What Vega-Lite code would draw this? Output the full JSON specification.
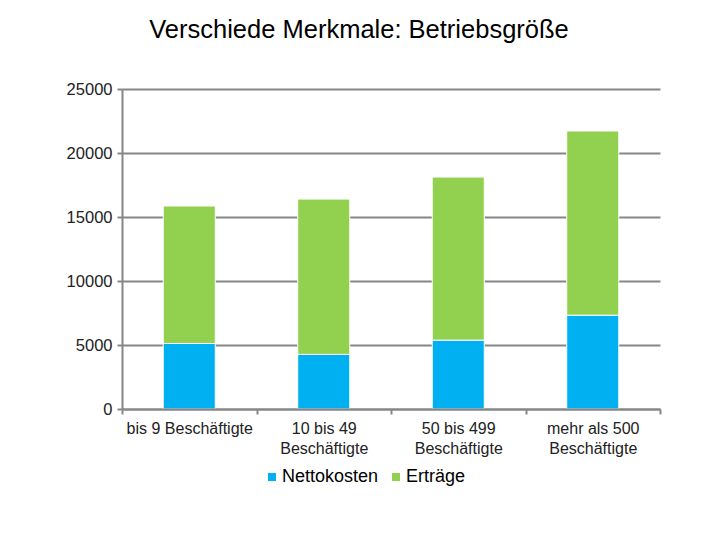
{
  "$schema": "https://vega.github.io/schema/vega-lite/v6.json",
  "autosize": {"type": "none"},
  "width": 538,
  "height": 320,
  "padding": {"left": 122, "top": 89, "right": 60, "bottom": 131},
  "background": "white",
  "title": {
    "text": "Verschiede Merkmale: Betriebsgröße",
    "font": "Liberation Sans",
    "fontSize": 25.5,
    "fontWeight": "normal",
    "color": "#000000",
    "anchor": "middle",
    "dx": -32,
    "offset": 38
  },
  "data": {
    "values": [
      {"Betriebsgroesse": "bis 9 Beschäftigte", "Kategorie": "Nettokosten", "Wert": 5120},
      {"Betriebsgroesse": "bis 9 Beschäftigte", "Kategorie": "Erträge", "Wert": 10740},
      {"Betriebsgroesse": "10 bis 49 Beschäftigte", "Kategorie": "Nettokosten", "Wert": 4270},
      {"Betriebsgroesse": "10 bis 49 Beschäftigte", "Kategorie": "Erträge", "Wert": 12130},
      {"Betriebsgroesse": "50 bis 499 Beschäftigte", "Kategorie": "Nettokosten", "Wert": 5380},
      {"Betriebsgroesse": "50 bis 499 Beschäftigte", "Kategorie": "Erträge", "Wert": 12740},
      {"Betriebsgroesse": "mehr als 500 Beschäftigte", "Kategorie": "Nettokosten", "Wert": 7330},
      {"Betriebsgroesse": "mehr als 500 Beschäftigte", "Kategorie": "Erträge", "Wert": 14390}
    ]
  },
  "mark": {"type": "bar", "width": {"band": 0.387}, "stroke": "white", "strokeWidth": 1},
  "encoding": {
    "x": {
      "field": "Betriebsgroesse",
      "type": "nominal",
      "sort": null,
      "title": null,
      "scale": {"paddingInner": 0, "paddingOuter": 0},
      "axis": {
        "zindex": 1,
        "labelAngle": 0,
        "labelFont": "Liberation Sans",
        "labelFontSize": 16,
        "labelColor": "#222222",
        "labelLineHeight": 20,
        "labelPadding": 6,
        "labelExpr": "indexof(datum.label + '', 'Besch') < 0 ? '' : (indexof(datum.label, 'bis 9') == 0 ? [datum.label] : [replace(datum.label, ' Beschäftigte', ''), 'Beschäftigte'])",
        "tickBand": "extent",
        "tickSize": 5,
        "tickWidth": 2,
        "tickColor": "#868686",
        "domainColor": "#868686",
        "domainWidth": 2,
        "grid": false
      }
    },
    "y": {
      "field": "Wert",
      "type": "quantitative",
      "stack": "zero",
      "title": null,
      "scale": {"domain": [0, 25000], "nice": false},
      "axis": {
        "values": [0, 5000, 10000, 15000, 20000, 25000],
        "format": "d",
        "labelFont": "Liberation Sans",
        "labelFontSize": 16.5,
        "labelColor": "#222222",
        "labelPadding": 5,
        "tickSize": 5,
        "tickWidth": 2,
        "tickColor": "#868686",
        "domainColor": "#868686",
        "domainWidth": 2,
        "grid": true,
        "gridColor": "#868686",
        "gridWidth": 2
      }
    },
    "color": {
      "field": "Kategorie",
      "type": "nominal",
      "scale": {"domain": ["Nettokosten", "Erträge"], "range": ["#00B0F0", "#92D050"]},
      "legend": {
        "title": null,
        "orient": "none",
        "legendX": 141,
        "legendY": 379,
        "direction": "horizontal",
        "symbolType": "square",
        "symbolSize": 64,
        "symbolStrokeWidth": 0,
        "labelFont": "Liberation Sans",
        "labelFontSize": 18,
        "labelColor": "#000000",
        "labelOffset": 1,
        "columnPadding": 8
      }
    },
    "order": {"field": "Kategorie", "sort": "descending"}
  },
  "config": {"view": {"stroke": null}}
}
